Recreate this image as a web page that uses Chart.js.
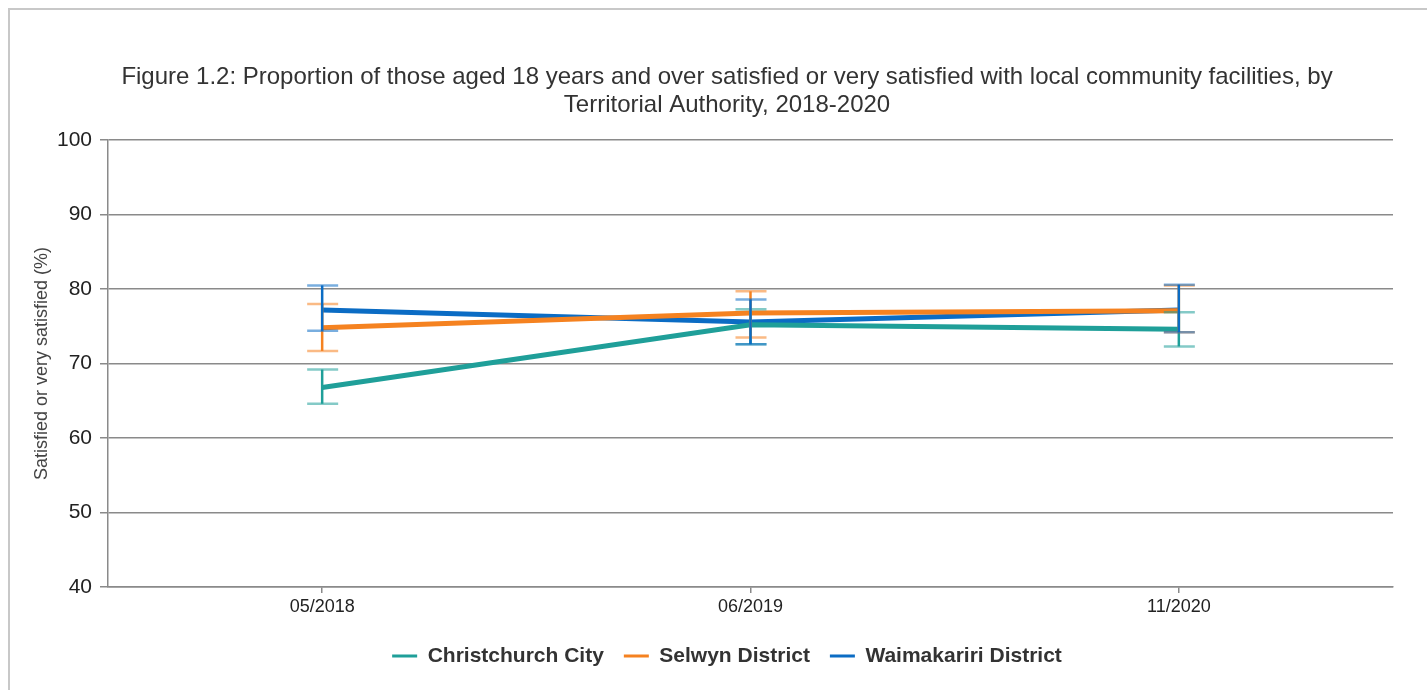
<!DOCTYPE html>
<html lang="en">
<head>
    <meta charset="UTF-8">
    <title>Figure 1.2</title>
    <script src="https://cdn.jsdelivr.net/npm/chart.js@4.4.1/dist/chart.umd.min.js"></script>
    <style>
        html, body { margin: 0; padding: 0; background: #fff; overflow: hidden; }
        .frame { position: absolute; left: 8px; top: 8px; width: 1500px; height: 800px; border: 2px solid #c8c8c8; }
        #wrap { position: absolute; left: 0; top: 0; width: 1427px; height: 690px; }
    </style>
</head>
<body>
    <div class="frame"></div>
    <div id="wrap"><canvas id="myChart"></canvas></div>

    <script>
        // survey periods
        var periods = ["05/2018", "06/2019", "11/2020"];

        // estimates and 95% CI per territorial authority
        var christchurch = [66.8, 75.2, 74.6];
        var christchurchLow = [64.6, 72.6, 72.3];
        var christchurchHigh = [69.2, 77.3, 76.9];

        var selwyn = [74.8, 76.8, 77.1];
        var selwynLow = [71.7, 73.5, 74.2];
        var selwynHigh = [78.0, 79.7, 80.5];

        var waimakariri = [77.2, 75.6, 77.2];
        var waimakaririLow = [74.4, 72.6, 74.2];
        var waimakaririHigh = [80.5, 78.6, 80.6];

        var yTicks = [40, 50, 60, 70, 80, 90, 100];

        var FONT = "'Liberation Sans', Arial, sans-serif";

        // error bars drawn through the scales
        var errorBars = {
            id: 'errorBars',
            afterDatasetsDraw: function (chart) {
                var ctx = chart.ctx;
                var xs = chart.scales.x, ys = chart.scales.y;
                chart.data.datasets.forEach(function (ds) {
                    for (var i = 0; i < ds.data.length; i++) {
                        var x = xs.getPixelForValue(i);
                        var yl = ys.getPixelForValue(ds.low[i]);
                        var yh = ys.getPixelForValue(ds.high[i]);
                        ctx.save();
                        ctx.strokeStyle = ds.borderColor;
                        ctx.lineWidth = 2.5;
                        ctx.beginPath();
                        ctx.moveTo(x, yl);
                        ctx.lineTo(x, yh);
                        ctx.stroke();
                        ctx.globalAlpha = 0.55;
                        ctx.beginPath();
                        ctx.moveTo(x - 15, yl); ctx.lineTo(x + 16, yl);
                        ctx.moveTo(x - 15, yh); ctx.lineTo(x + 16, yh);
                        ctx.stroke();
                        ctx.restore();
                    }
                });
            }
        };

        var myChart = new Chart("myChart", {
            type: "line",
            data: {
                labels: periods,
                datasets: [
                    { label: "Christchurch City", data: christchurch, low: christchurchLow, high: christchurchHigh,
                      borderColor: "#1f9f99", backgroundColor: "#1f9f99" },
                    { label: "Selwyn District", data: selwyn, low: selwynLow, high: selwynHigh,
                      borderColor: "#f58220", backgroundColor: "#f58220" },
                    { label: "Waimakariri District", data: waimakariri, low: waimakaririLow, high: waimakaririHigh,
                      borderColor: "#0b6cc4", backgroundColor: "#0b6cc4" }
                ]
            },
            options: {
                responsive: true,
                maintainAspectRatio: false,
                animation: false,
                layout: { padding: { left: 27, right: 0, top: 63, bottom: 13.5 } },
                elements: {
                    line: { borderWidth: 5, tension: 0 },
                    point: { radius: 0, hoverRadius: 0 }
                },
                scales: {
                    x: {
                        offset: true,
                        grid: { drawOnChartArea: false, offset: false, tickLength: 6, color: "#8a8a8a", lineWidth: 1.5 },
                        border: { color: "#8a8a8a", width: 1.5 },
                        ticks: { color: "#222", font: { family: FONT, size: 18 }, padding: 3, maxRotation: 0 },
                        afterFit: function (s) { s.height = 38.5; }
                    },
                    y: {
                        min: 40, max: 100,
                        afterBuildTicks: function (s) { s.ticks = yTicks.map(function (v) { return { value: v }; }); },
                        grid: { color: "#8a8a8a", lineWidth: 1.5, tickLength: 8 },
                        border: { color: "#8a8a8a", width: 1.5 },
                        ticks: { color: "#222", font: { family: FONT, size: 21 }, padding: 8 },
                        title: { display: true, text: "Satisfied or very satisfied (%)", color: "#444",
                                 font: { family: FONT, size: 18 }, padding: { top: 4, bottom: 0 } },
                        afterFit: function (s) { s.width = 81; }
                    },
                    y2: {
                        position: "right",
                        min: 40, max: 100,
                        grid: { display: false },
                        border: { display: false },
                        ticks: { display: false },
                        afterFit: function (s) { s.width = 34; }
                    }
                },
                plugins: {
                    title: {
                        display: true,
                        text: ["Figure 1.2: Proportion of those aged 18 years and over satisfied or very satisfied with local community facilities, by",
                               "Territorial Authority, 2018-2020"],
                        color: "#333",
                        font: { family: FONT, size: 24, weight: "normal", lineHeight: 1.17 },
                        padding: { top: 0, bottom: 21 }
                    },
                    legend: {
                        position: "bottom",
                        labels: {
                            color: "#333",
                            font: { family: FONT, size: 21, weight: "bold" },
                            boxWidth: 25,
                            boxHeight: 3,
                            padding: 20,
                            generateLabels: function (chart) {
                                return Chart.defaults.plugins.legend.labels.generateLabels(chart).map(function (l) {
                                    l.lineWidth = 0;
                                    l.fillStyle = l.strokeStyle;
                                    return l;
                                });
                            }
                        }
                    },
                    tooltip: { enabled: false }
                }
            },
            plugins: [errorBars]
        });
    </script>
</body>
</html>
